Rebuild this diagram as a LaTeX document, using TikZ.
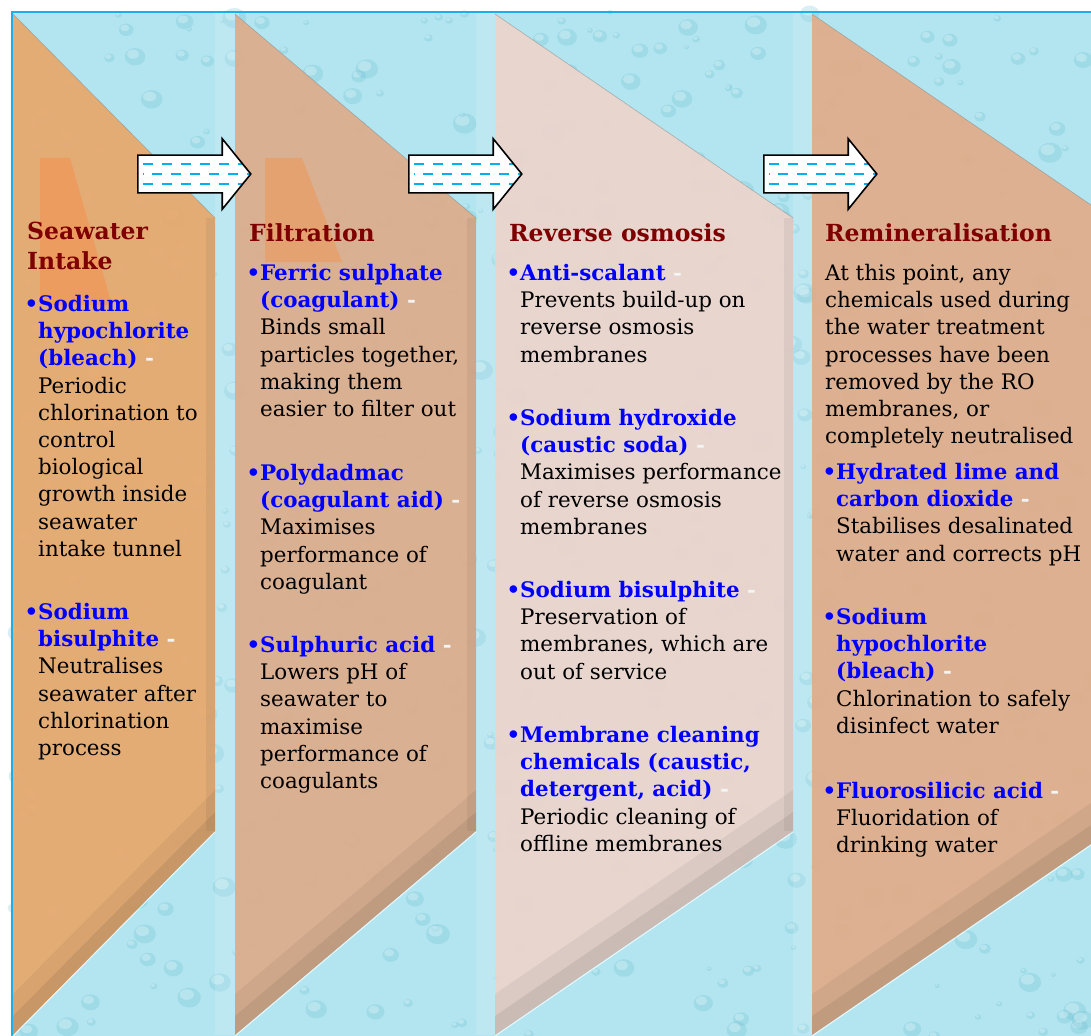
\documentclass[tikz,border=0pt]{standalone}
\usepackage{fontspec}
\setmainfont{DejaVu Serif}
\usetikzlibrary{shapes.arrows, positioning}

\definecolor{framecyan}{HTML}{1AAFE6}
\definecolor{watercyan}{HTML}{B2E5F0}
\definecolor{dropcyan}{HTML}{5DB6CB}
\definecolor{intakeorange}{HTML}{E8A96E}
\definecolor{filterpeach}{HTML}{DDAD8D}
\definecolor{ropink}{HTML}{EBD4CC}
\definecolor{remintan}{HTML}{DFAD8A}
\definecolor{accentorange}{HTML}{EE9757}
\definecolor{headred}{HTML}{7F0000}
\definecolor{chemblue}{HTML}{0000FF}
\definecolor{dashgray}{HTML}{F4F4F4}
\definecolor{flowdash}{HTML}{00B0F0}

\newcommand{\bodyfont}{\fontsize{21.4}{27.2}\selectfont}
\newcommand{\headfont}{\fontsize{23.5}{30}\selectfont\bfseries}
\newcommand{\chemname}[1]{\textcolor{chemblue}{\bfseries #1}}
\newcommand{\itembul}{\llap{\textcolor{chemblue}{\bfseries •}}}
\newcommand{\wdash}{\textcolor{dashgray}{\bfseries\ -}}

\tikzset{%
	heading/.style = {
		anchor=north west, inner sep=0pt, align=left,
		font=\headfont, text=headred,
		execute at begin node={\rule{0pt}{19pt}}
	},
	item/.style = {
		anchor=north west, inner sep=0pt, align=left,
		font=\bodyfont, text=black,
		execute at begin node={\rule{0pt}{17pt}}
	},
	flow/.style = {
		single arrow, draw=black, line width=1.6pt, fill=white,
		inner xsep=0pt, inner ysep=18pt, minimum height=113pt,
		single arrow head extend=16.5pt, single arrow tip angle=102,
		anchor=tail,
		path picture={
			\foreach \dy/\ph in {-10/0, 0/9.5, 10/0}
				\draw[flowdash, line width=2.5pt, dash pattern=on 10pt off 9pt, dash phase=\ph pt]
					([xshift=5pt, yshift=\dy pt]path picture bounding box.west) -- ++(120pt,0);
		}
	}
}

\begin{document}
\begin{tikzpicture}[x=1pt, y=-1pt]
    \useasboundingbox (0,0) rectangle (1091,1035);
    \clip (0,0) rectangle (1091,1035);
    % water background with drops
    \fill[white] (0,0) rectangle (1091,1035);
    \fill[watercyan] (12,12) rectangle (1100,1045);
    \pgfmathsetseed{11}
    \foreach \k in {1,...,650}{
        \pgfmathsetmacro{\dx}{12+rnd*1080}
        \pgfmathsetmacro{\dy}{12+rnd*1025}
        \pgfmathsetmacro{\dr}{2+rnd*10}
        \fill[dropcyan, opacity=0.22] (\dx,\dy) ellipse ({\dr} and {0.85*\dr});
        \fill[watercyan!50!white, opacity=0.45] (\dx-0.2*\dr,\dy-0.25*\dr) ellipse ({0.6*\dr} and {0.45*\dr});
    }
    \foreach \gl/\gr in {215/235, 476/495, 793/812}
        \fill[white, opacity=0.15] (\gl,12) rectangle (\gr,1035);
    \draw[framecyan, line width=2pt] (12,12) rectangle (1100,1050);

    % panels
    \foreach \xl/\xr/\col in {13/215/intakeorange, 235/476/filterpeach, 495/793/ropink, 812/1110/remintan}{
        \fill[\col, opacity=0.94] (\xl,14) -- (\xr,218) -- (\xr,831) -- (\xl,1035) -- cycle;
        \fill[black, opacity=0.05] (\xl,1035) -- (\xr,831) -- (\xr,790) -- (\xl,994) -- cycle;
        \fill[black, opacity=0.07] (\xl,1035) -- (\xr,831) -- (\xr,812) -- (\xl,1016) -- cycle;
        \fill[black, opacity=0.05] (\xr-9,218) rectangle (\xr,831);
        \draw[black!45, opacity=0.6, line width=0.6pt] (\xl,14) -- (\xr,218);
        \draw[white, opacity=0.7, line width=1pt] (\xl,1036) -- (\xr,832);
    }
    \fill[accentorange, opacity=0.75] (40,158) -- (70,158) -- (112,305) -- (40,305) -- cycle;
    \fill[accentorange, opacity=0.55] (265,158) -- (302,158) -- (342,262) -- (265,262) -- cycle;

    % flow arrows
    \node (flowA) [flow] at (137,174) {};
    \node (flowB) [flow] at (408,174) {};
    \node (flowC) [flow] at (763,174) {};

    % seawater intake
    \node (intakehead) [heading] at (27,222) {Seawater\\Intake};
    \node (hypoA) [item] at (38,295) {\itembul\chemname{Sodium}\\ \chemname{hypochlorite}\\ \chemname{(bleach)}\wdash\\ Periodic\\ chlorination to\\ control\\ biological\\ growth inside\\ seawater\\ intake tunnel};
    \node (bisulA) [item] at (38,603) {\itembul\chemname{Sodium}\\ \chemname{bisulphite}\wdash\\ Neutralises\\ seawater after\\ chlorination\\ process};

    % filtration
    \node (filterhead) [heading] at (249,222) {Filtration};
    \node (ferric) [item] at (260,264) {\itembul\chemname{Ferric sulphate}\\ \chemname{(coagulant)}\wdash\\ Binds small\\ particles together,\\ making them\\ easier to filter out};
    \node (polyd) [item] at (260,464) {\itembul\chemname{Polydadmac}\\ \chemname{(coagulant aid)}\wdash\\ Maximises\\ performance of\\ coagulant};
    \node (sulph) [item] at (260,636) {\itembul\chemname{Sulphuric acid}\wdash\\ Lowers pH of\\ seawater to\\ maximise\\ performance of\\ coagulants};

    % reverse osmosis
    \node (rohead) [heading] at (509,222) {Reverse osmosis};
    \node (antisc) [item] at (520,264) {\itembul\chemname{Anti-scalant}\wdash\\ Prevents build-up on\\ reverse osmosis\\ membranes};
    \node (naoh) [item] at (520,409) {\itembul\chemname{Sodium hydroxide}\\ \chemname{(caustic soda)}\wdash\\ Maximises performance\\ of reverse osmosis\\ membranes};
    \node (bisulC) [item] at (520,581) {\itembul\chemname{Sodium bisulphite}\wdash\\ Preservation of\\ membranes, which are\\ out of service};
    \node (clean) [item] at (520,726) {\itembul\chemname{Membrane cleaning}\\ \chemname{chemicals (caustic,}\\ \chemname{detergent, acid)}\wdash\\ Periodic cleaning of\\ offline membranes};

    % remineralisation
    \node (reminhead) [heading] at (825,222) {Remineralisation};
    \node (reminnote) [item] at (825,264) {At this point, any\\ chemicals used during\\ the water treatment\\ processes have been\\ removed by the RO\\ membranes, or\\ completely neutralised};
    \node (lime) [item] at (836,463) {\itembul\chemname{Hydrated lime and}\\ \chemname{carbon dioxide}\wdash\\ Stabilises desalinated\\ water and corrects pH};
    \node (hypoD) [item] at (836,608) {\itembul\chemname{Sodium}\\ \chemname{hypochlorite}\\ \chemname{(bleach)}\wdash\\ Chlorination to safely\\ disinfect water};
    \node (fluoro) [item] at (836,782) {\itembul\chemname{Fluorosilicic acid}\wdash\\ Fluoridation of\\ drinking water};
\end{tikzpicture}
\end{document}
